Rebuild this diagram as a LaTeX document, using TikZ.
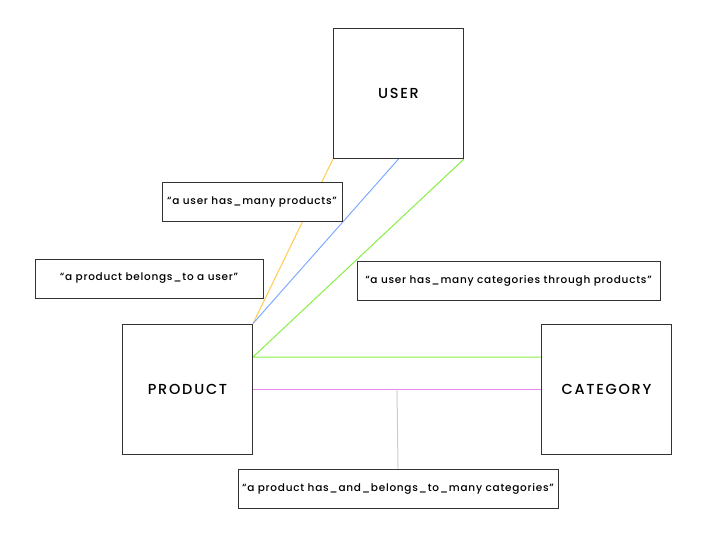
\documentclass[tikz,border=0pt]{standalone}
\usepackage{fontspec}
\setmainfont{Poppins}[UprightFont={* Medium}]
\newfontfamily\boxfont{Poppins}[UprightFont={* Medium}, LetterSpace=12]
\newfontfamily\notefont{Poppins}[UprightFont={* Medium}, LetterSpace=7]
\usetikzlibrary{backgrounds}

\definecolor{belongscol}{RGB}{255,204,80}
\definecolor{hasmanycol}{RGB}{128,170,255}
\definecolor{throughcol}{RGB}{136,238,68}
\definecolor{habtmcol}{RGB}{232,136,232}

\tikzset{
  modelbox/.style={draw=black!80, fill=white, line width=1pt,
    minimum width=130pt, minimum height=130pt, inner sep=0pt,
    font=\boxfont\fontsize{14.5}{16}\selectfont},
  notebox/.style={draw=black!80, fill=white, line width=1pt,
    minimum height=39pt, inner sep=0pt,
    font=\notefont\fontsize{10.5}{12}\selectfont},
  assoc/.style={line width=1pt}
}

\begin{document}
\begin{tikzpicture}[x=1pt, y=-1pt]

\useasboundingbox (0,0) rectangle (709,539);

% ================================================================
% Models
% ================================================================
\node[modelbox] (user)     at (398.5, 93.5) {USER};
\node[modelbox] (product)  at (187.5, 389)  {PRODUCT};
\node[modelbox] (category) at (606.5, 389)  {CATEGORY};

% ================================================================
% Association notes
% ================================================================
\node[notebox, minimum width=180pt] (hasmany)  at (252, 202)   {“a user has\_many products”};
\node[notebox, minimum width=228pt] (belongs)  at (149, 278.5) {“a product belongs\_to a user”};
\node[notebox, minimum width=303pt] (through)  at (508.5, 281) {“a user has\_many categories through products”};
\node[notebox, minimum width=320pt] (habtm)    at (398, 488.5) {“a product has\_and\_belongs\_to\_many categories”};

% ================================================================
% Connectors (behind the boxes)
% ================================================================
\begin{scope}[on background layer]
  % belongs_to / has_many
  \draw[assoc, belongscol] (user.south west) -- (product.north east);
  \draw[assoc, hasmanycol] (user.south) -- (product.north east);
  % has_many through
  \coordinate (prodthru) at ([yshift=32pt]product.east);
  \coordinate (catthru)  at ([yshift=32pt]category.west);
  \draw[assoc, throughcol] (user.south east) -- (prodthru) -- (catthru);
  % has_and_belongs_to_many
  \draw[assoc, habtmcol] (product.east) -- (category.west)
    coordinate[pos=0.5] (habtmmid);
  \draw[assoc, black!20] (habtmmid) -- (habtm.north);
\end{scope}

\end{tikzpicture}
\end{document}
